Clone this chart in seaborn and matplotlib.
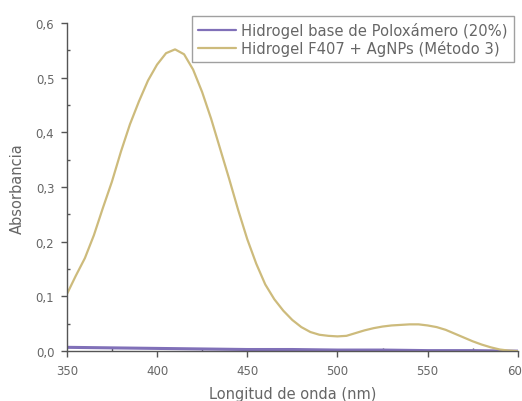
import matplotlib
matplotlib.use("Agg")
import matplotlib.pyplot as plt
from matplotlib.ticker import MultipleLocator, FuncFormatter
import seaborn as sns
import pandas as pd

# UV-Vis absorbance spectra
wl_base = [350, 375, 400, 425, 450, 475, 500, 525, 550, 575, 600]
abs_base = [0.007, 0.006, 0.005, 0.004, 0.003, 0.003, 0.002, 0.002, 0.001, 0.001, 0.0]

wl_agnps = [350, 355, 360, 365, 370, 375, 380, 385, 390, 395, 400, 405, 410,
            415, 420, 425, 430, 435, 440, 445, 450, 455, 460, 465, 470, 475,
            480, 485, 490, 495, 500, 505, 510, 515, 520, 525, 530, 535, 540,
            545, 550, 555, 560, 565, 570, 575, 580, 585, 590, 595, 600]
abs_agnps = [0.104, 0.138, 0.170, 0.212, 0.262, 0.310, 0.365, 0.415, 0.457,
             0.495, 0.524, 0.545, 0.552, 0.543, 0.515, 0.474, 0.425, 0.370,
             0.315, 0.258, 0.205, 0.160, 0.122, 0.095, 0.074, 0.057, 0.044,
             0.035, 0.030, 0.028, 0.027, 0.028, 0.033, 0.038, 0.042, 0.045,
             0.047, 0.048, 0.049, 0.049, 0.047, 0.044, 0.039, 0.032, 0.025,
             0.018, 0.012, 0.007, 0.003, 0.001, 0.0]

label_base = "Hidrogel base de Poloxámero (20%)"
label_agnps = "Hidrogel F407 + AgNPs (Método 3)"

df = pd.concat([
    pd.DataFrame({"wl": wl_base, "abs": abs_base, "muestra": label_base}),
    pd.DataFrame({"wl": wl_agnps, "abs": abs_agnps, "muestra": label_agnps}),
])

sns.set_style("white")
plt.rcParams["font.family"] = ["DejaVu Sans"]

fig = plt.figure(figsize=(5.22, 4.02), dpi=100)
ax = fig.add_axes([0.128, 0.124, 0.864, 0.816])

palette = {label_base: "#8070b8", label_agnps: "#cdbb7c"}
sns.lineplot(data=df, x="wl", y="abs", hue="muestra", palette=palette,
             linewidth=1.6, ax=ax, sort=False)
ax.lines[0].set_linewidth(2.2)

ax.set_xlim(350, 600)
ax.set_ylim(0, 0.6)
ax.xaxis.set_major_locator(MultipleLocator(50))
ax.xaxis.set_minor_locator(MultipleLocator(25))
ax.yaxis.set_major_locator(MultipleLocator(0.1))
ax.yaxis.set_minor_locator(MultipleLocator(0.05))
ax.yaxis.set_major_formatter(FuncFormatter(lambda v, p: f"{v:.1f}".replace(".", ",")))

for s in ["top", "right"]:
    ax.spines[s].set_visible(False)
for s in ["left", "bottom"]:
    ax.spines[s].set_color("#555555")
    ax.spines[s].set_linewidth(1.0)

ax.tick_params(which="major", direction="out", length=4, width=1,
               color="#555555", labelsize=8.5, labelcolor="#666666", pad=5)
ax.tick_params(which="minor", direction="in", length=2.5, width=1, color="#555555")
ax.tick_params(axis="both", which="both", bottom=True, left=True)

ax.set_xlabel("Longitud de onda (nm)", fontsize=10.5, color="#666666", labelpad=7)
ax.set_ylabel("Absorbancia", fontsize=10.5, color="#666666", labelpad=8)

leg = ax.legend(loc="upper right", bbox_to_anchor=(0.991, 1.021), borderaxespad=0,
                fontsize=10.6, frameon=True, fancybox=False, edgecolor="#888888",
                handlelength=2.6, borderpad=0.4, labelspacing=0.12,
                handletextpad=0.35)
leg.get_frame().set_linewidth(1.0)
for t in leg.get_texts():
    t.set_color("#666666")

fig.savefig("out.png", dpi=100)
